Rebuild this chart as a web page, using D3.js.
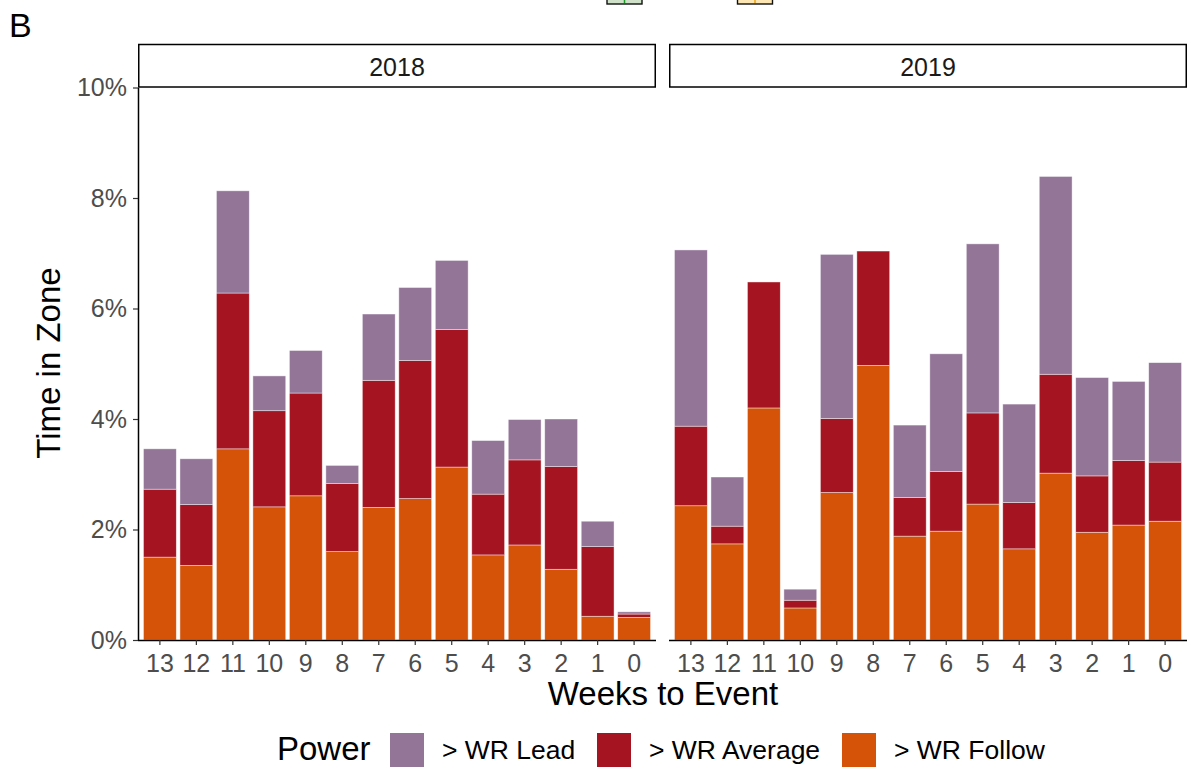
<!DOCTYPE html>
<html>
<head>
<meta charset="utf-8">
<script src="https://cdn.jsdelivr.net/npm/d3@7"></script>
<style>
  html, body { margin: 0; padding: 0; background: #fff; }
  svg { display: block; font-family: "Liberation Sans", Arial, Helvetica, sans-serif; }
</style>
</head>
<body>
<svg id="chart" width="1194" height="771"></svg>
<script>
// ---- data (percent of time in zone, stacked segment values) ----
const weeks = [13, 12, 11, 10, 9, 8, 7, 6, 5, 4, 3, 2, 1, 0];
const years = ["2018", "2019"];
const seriesKeys = ["follow", "average", "lead"];
const seriesLabels = ["> WR Lead", "> WR Average", "> WR Follow"];
const yTicks = [0, 2, 4, 6, 8, 10];

const follow2018  = [1.50, 1.35, 3.46, 2.41, 2.61, 1.60, 2.40, 2.56, 3.13, 1.54, 1.72, 1.28, 0.43, 0.41];
const average2018 = [1.23, 1.10, 2.82, 1.74, 1.86, 1.23, 2.30, 2.50, 2.49, 1.10, 1.54, 1.86, 1.26, 0.06];
const lead2018    = [0.73, 0.83, 1.85, 0.63, 0.77, 0.33, 1.20, 1.32, 1.25, 0.97, 0.73, 0.86, 0.46, 0.04];

const follow2019  = [2.43, 1.74, 4.20, 0.58, 2.67, 4.97, 1.88, 1.97, 2.46, 1.65, 3.02, 1.95, 2.08, 2.15];
const average2019 = [1.44, 0.32, 2.28, 0.14, 1.34, 2.07, 0.70, 1.08, 1.65, 0.84, 1.79, 1.02, 1.17, 1.07];
const lead2019    = [3.19, 0.89, 0.00, 0.20, 2.97, 0.00, 1.31, 2.13, 3.06, 1.78, 3.58, 1.78, 1.43, 1.80];

const colors = { lead: "#937598", average: "#a51421", follow: "#d55309" };

function rows(f, a, l) {
  return weeks.map((w, i) => ({ week: w, follow: f[i], average: a[i], lead: l[i] }));
}
const dataByYear = {
  "2018": rows(follow2018, average2018, lead2018),
  "2019": rows(follow2019, average2019, lead2019)
};

const svg = d3.select("#chart");
const FONT = "Liberation Sans, Arial, Helvetica, sans-serif";

// layout
const panels = [
  { year: years[0], x0: 138, x1: 656 },
  { year: years[1], x0: 669, x1: 1187 }
];
const plotTop = 87.5, plotBottom = 640;
const stripTop = 44.5;

const y = d3.scaleLinear().domain([0, 10]).range([plotBottom, plotTop]);
const stack = d3.stack().keys(seriesKeys);

// partial legend keys from the panel above (cut off at the top)
const topKeys = [
  { x: 607, fill: "#cfe2c9", mark: "#1f9a2a" },
  { x: 737.5, fill: "#fde6b4", mark: "#e6a317" }
];
topKeys.forEach(k => {
  svg.append("rect").attr("x", k.x).attr("y", -30).attr("width", 35).attr("height", 34)
    .attr("fill", k.fill).attr("stroke", "#111").attr("stroke-width", 1.4);
  svg.append("line").attr("x1", k.x + 17.5).attr("x2", k.x + 17.5).attr("y1", -4).attr("y2", 3)
    .attr("stroke", k.mark).attr("stroke-width", 1.5);
});

// panel tag
svg.append("text").attr("x", 9).attr("y", 37).attr("font-size", 34).attr("fill", "#000").text("B");

panels.forEach((p, pi) => {
  const x = d3.scaleBand().domain(weeks).range([p.x0, p.x1])
    .paddingInner(0.1).paddingOuter(0.15);
  const g = svg.append("g");

  // strip
  g.append("rect").attr("x", p.x0 + 0.75).attr("y", stripTop).attr("width", p.x1 - p.x0 - 1.5)
    .attr("height", plotTop - stripTop - 0.5)
    .attr("fill", "#fff").attr("stroke", "#000").attr("stroke-width", 1.5);
  g.append("text").attr("x", (p.x0 + p.x1) / 2).attr("y", 76).attr("text-anchor", "middle")
    .attr("font-size", 25).attr("fill", "#1a1a1a").text(p.year);

  // bars
  const stacked = stack(dataByYear[p.year]);
  stacked.forEach(layer => {
    g.append("g").selectAll("rect").data(layer).join("rect")
      .attr("x", d => x(d.data.week))
      .attr("width", x.bandwidth())
      .attr("y", d => y(d[1]))
      .attr("height", d => Math.max(0, y(d[0]) - y(d[1])))
      .attr("fill", colors[layer.key])
      .attr("stroke", "#ffffff").attr("stroke-opacity", 0.6).attr("stroke-width", 0.7);
  });

  // x axis
  const xAxis = d3.axisBottom(x).tickSize(5).tickPadding(9).tickSizeOuter(0);
  const xg = g.append("g").attr("transform", `translate(0,${plotBottom})`).call(xAxis);
  xg.attr("font-size", 25).attr("font-family", FONT);
  xg.select(".domain").attr("stroke", "#000").attr("stroke-width", 1.5)
    .attr("d", `M${p.x0},0.5H${p.x1}`);
  xg.selectAll(".tick line").attr("stroke", "#333").attr("stroke-width", 1.2);
  xg.selectAll(".tick text").attr("fill", "#4d4d4d");

  // y axis only on first panel
  if (pi === 0) {
    const yAxis = d3.axisLeft(y).tickValues(yTicks).tickFormat(d => d + "%")
      .tickSize(5).tickPadding(6).tickSizeOuter(0);
    const yg = g.append("g").attr("transform", `translate(${p.x0},0)`).call(yAxis);
    yg.attr("font-size", 25).attr("font-family", FONT);
    yg.select(".domain").attr("stroke", "#000").attr("stroke-width", 1.5);
    yg.selectAll(".tick line").attr("stroke", "#333").attr("stroke-width", 1.2);
    yg.selectAll(".tick text").attr("fill", "#4d4d4d");
  }
});

// axis titles
svg.append("text").attr("x", 663).attr("y", 705).attr("text-anchor", "middle")
  .attr("font-size", 33).attr("fill", "#000").text("Weeks to Event");
svg.append("text").attr("transform", "translate(60,363) rotate(-90)").attr("text-anchor", "middle")
  .attr("font-size", 33).attr("fill", "#000").text("Time in Zone");

// legend
const legend = svg.append("g");
legend.append("text").attr("x", 277).attr("y", 760).attr("font-size", 33).attr("fill", "#000").text("Power");
const legendItems = [
  { key: "lead", label: seriesLabels[0], x: 390 },
  { key: "average", label: seriesLabels[1], x: 597 },
  { key: "follow", label: seriesLabels[2], x: 842 }
];
legendItems.forEach(it => {
  legend.append("rect").attr("x", it.x).attr("y", 733).attr("width", 34).attr("height", 34)
    .attr("fill", colors[it.key]);
  legend.append("text").attr("x", it.x + 52).attr("y", 759).attr("font-size", 26.5)
    .attr("fill", "#000").text(it.label);
});
</script>
</body>
</html>
